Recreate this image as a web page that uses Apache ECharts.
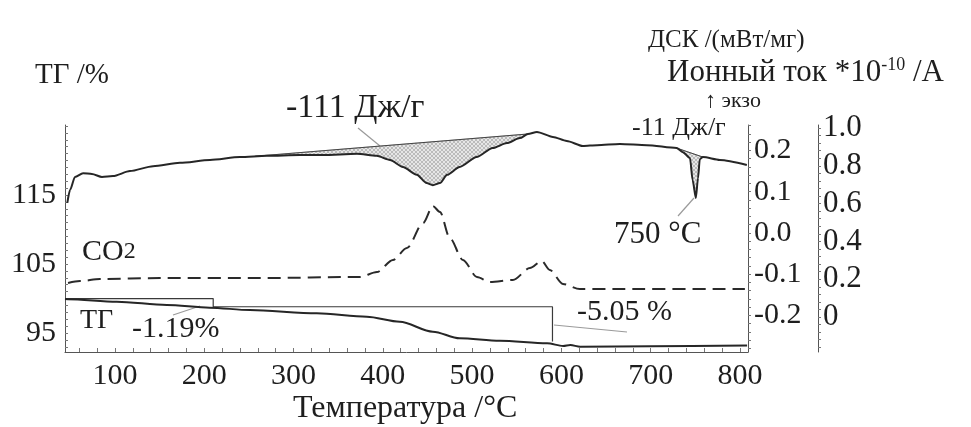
<!DOCTYPE html>
<html>
<head>
<meta charset="utf-8">
<script src="https://cdn.jsdelivr.net/npm/echarts@6/dist/echarts.min.js"></script>
<style>
  html, body { margin: 0; padding: 0; background: #fff; }
  #chart { width: 971px; height: 427px; }
</style>
</head>
<body>
<div id="chart"></div>
<script>
// DSC signal, mW/mg
const dscTemp = [46.6, 49.6, 55.2, 64.2, 74.2, 85.4, 97.8, 116.8, 142.6, 172.8, 206.4, 240, 270, 307, 333, 371, 393, 408, 422.5, 438, 449, 456, 464, 472, 486, 505, 523, 539, 553.5, 562.5, 572.6, 590.5, 606, 624, 640, 665.5, 695.7, 729, 736, 744, 747, 750.6, 753, 755, 758.5, 777.5, 807.7];
const dscValue = [0.073, 0.104, 0.136, 0.145, 0.143, 0.136, 0.138, 0.150, 0.162, 0.170, 0.177, 0.184, 0.187, 0.189, 0.189, 0.192, 0.187, 0.177, 0.160, 0.141, 0.121, 0.116, 0.121, 0.141, 0.160, 0.184, 0.206, 0.218, 0.230, 0.240, 0.245, 0.233, 0.223, 0.211, 0.213, 0.216, 0.213, 0.206, 0.196, 0.182, 0.128, 0.085, 0.133, 0.179, 0.184, 0.177, 0.165];

// integration baselines of the two endothermic peaks
const peak1Base = [[257, 0.186], [562.5, 0.240]];
const peak2Base = [[729, 0.206], [758.5, 0.184]];

// CO2 ion current, 1e-10 A
const co2Temp = [47.4, 60.8, 83.2, 150.4, 262.4, 374.4, 393.4, 411.3, 427, 445, 456, 464, 475, 489.7, 505.4, 520, 545.7, 564.7, 578, 587, 601.7, 620.7, 669, 805.5];
const co2Value = [0.180, 0.190, 0.201, 0.206, 0.206, 0.212, 0.238, 0.302, 0.365, 0.497, 0.587, 0.556, 0.418, 0.302, 0.212, 0.185, 0.196, 0.259, 0.296, 0.249, 0.175, 0.148, 0.148, 0.148];

// TG mass, %
const tgTemp = [44, 47.4, 102, 158, 206, 251, 326, 382, 419, 456, 486, 531, 584, 602, 610, 621, 700, 808];
const tgValue = [99.92, 99.9, 99.54, 99.06, 98.67, 98.33, 97.86, 97.36, 96.64, 95.19, 94.23, 93.88, 93.51, 93.12, 93.26, 93.01, 93.1, 93.19];

// mass-loss steps
const tgStart = 100;
const stepTemp = [44, 210, 590];
const stepLoss = [-1.19, -5.05];

// tick labels
const tempLabels = [100, 200, 300, 400, 500, 600, 700, 800];
const tgLabels = [95, 105, 115];
const dscLabels = [-0.2, -0.1, 0, 0.1, 0.2];
const ionLabels = [0, 0.2, 0.4, 0.6, 0.8, 1.0];

const FONT = '"Liberation Serif", "Times New Roman", serif';
const INK = '#1e1e1e';
const AXIS = '#555';

function zip(a, b) { return a.map((v, i) => [v, b[i]]); }
function range(from, to, step) {
  const out = [];
  for (let v = from; v <= to + 1e-9; v += step) out.push(+v.toFixed(4));
  return out;
}

// step polyline built from the stated losses
const stepLine = [[stepTemp[0], tgStart]];
let level = tgStart;
stepLoss.forEach((d, i) => {
  stepLine.push([stepTemp[i + 1], level]);
  level = +(level + d).toFixed(2);
  stepLine.push([stepTemp[i + 1], level]);
});

// light hatch fill for integrated peak areas
function hatchCanvas() {
  const c = document.createElement('canvas');
  c.width = 4; c.height = 4;
  const g = c.getContext('2d');
  g.fillStyle = '#e6e6e6';
  g.fillRect(0, 0, 4, 4);
  g.strokeStyle = '#a8a8a8';
  g.lineWidth = 0.7;
  g.beginPath(); g.moveTo(0, 4); g.lineTo(4, 0); g.stroke();
  g.beginPath(); g.moveTo(0, 0); g.lineTo(4, 4); g.stroke();
  return c;
}
const hatchFill = { image: hatchCanvas(), repeat: 'repeat' };

function peakArea(base) {
  return function (params, api) {
    const pts = [api.coord(base[0])];
    dscTemp.forEach((t, i) => {
      if (t > base[0][0] && t < base[1][0]) pts.push(api.coord([t, dscValue[i]]));
    });
    pts.push(api.coord(base[1]));
    return { type: 'polygon', shape: { points: pts }, style: { fill: hatchFill, stroke: '#888', lineWidth: 0.5 } };
  };
}

function axisCommon(extra) {
  return Object.assign({
    type: 'value',
    splitLine: { show: false },
    axisLine: { show: true, onZero: false, lineStyle: { color: AXIS, width: 1 } },
  }, extra);
}

const chart = echarts.init(document.getElementById('chart'), null, { renderer: 'canvas' });

const option = {
  animation: false,
  backgroundColor: '#fff',
  grid: { left: 65, right: 223, top: 125, bottom: 75 },
  xAxis: axisCommon({
    min: 44, max: 809,
    axisTick: { show: true, inside: true, length: 4, customValues: range(60, 800, 20), lineStyle: { color: '#777' } },
    axisLabel: { customValues: tempLabels, fontFamily: FONT, fontSize: 30, color: INK, margin: 9 }
  }),
  yAxis: [
    axisCommon({
      position: 'left', min: 92.25, max: 125.15,
      axisTick: { show: true, inside: true, length: 3, customValues: range(93, 125, 1), lineStyle: { color: '#777' } },
      axisLabel: { customValues: tgLabels, fontFamily: FONT, fontSize: 30, color: INK, margin: 9 }
    }),
    axisCommon({
      position: 'right', min: -0.2885, max: 0.2618,
      axisTick: { show: true, inside: false, length: 3, customValues: range(-0.28, 0.26, 0.02), lineStyle: { color: '#777' } },
      axisLabel: { customValues: dscLabels, fontFamily: FONT, fontSize: 30, color: INK, margin: 6,
        formatter: v => v.toFixed(1) }
    }),
    axisCommon({
      position: 'right', offset: 70, min: -0.185, max: 1.016,
      axisTick: { show: true, inside: false, length: 3, customValues: range(-0.16, 1.0, 0.04), lineStyle: { color: '#777' } },
      axisLabel: { customValues: ionLabels, fontFamily: FONT, fontSize: 31, color: INK, margin: 5,
        formatter: v => (v === 0 ? '0' : v.toFixed(1)) }
    })
  ],
  series: [
    {
      name: 'peak-area-1', type: 'custom', yAxisIndex: 1, silent: true, z: 1,
      renderItem: peakArea(peak1Base), data: [peak1Base[0]]
    },
    {
      name: 'peak-area-2', type: 'custom', yAxisIndex: 1, silent: true, z: 1,
      renderItem: peakArea(peak2Base), data: [peak2Base[0]]
    },
    {
      name: 'baseline-1', type: 'line', yAxisIndex: 1, data: peak1Base, showSymbol: false, z: 2,
      lineStyle: { color: '#444', width: 1.2 }
    },
    {
      name: 'baseline-2', type: 'line', yAxisIndex: 1, data: peak2Base, showSymbol: false, z: 2,
      lineStyle: { color: '#444', width: 1 }
    },
    {
      name: 'ДСК', type: 'line', yAxisIndex: 1, data: zip(dscTemp, dscValue),
      showSymbol: false, smooth: 0.25, smoothMonotone: 'x', z: 3,
      lineStyle: { color: '#262626', width: 2 }
    },
    {
      name: 'CO2', type: 'line', yAxisIndex: 2, data: zip(co2Temp, co2Value),
      showSymbol: false, smooth: 0.3, smoothMonotone: 'x', z: 3,
      lineStyle: { color: '#2a2a2a', width: 2, type: [13, 7] }
    },
    {
      name: 'ТГ', type: 'line', yAxisIndex: 0, data: zip(tgTemp, tgValue),
      showSymbol: false, smooth: 0.3, smoothMonotone: 'x', z: 3,
      lineStyle: { color: '#262626', width: 2 }
    },
    {
      name: 'steps', type: 'line', yAxisIndex: 0, data: stepLine,
      showSymbol: false, z: 2,
      lineStyle: { color: '#3a3a3a', width: 1.2 }
    }
  ],
  graphic: [
    { type: 'text', x: 35, y: 75, style: { text: 'ТГ /%', font: '29px ' + FONT, fill: INK, verticalAlign: 'middle' } },
    { type: 'text', x: 648, y: 40, style: { text: 'ДСК /(мВт/мг)', font: '25px ' + FONT, fill: INK, verticalAlign: 'middle' } },
    { type: 'text', x: 667, y: 73, style: {
        text: '{a|Ионный ток *10}{s|-10}{a| /А}', verticalAlign: 'middle', fill: INK,
        rich: {
          a: { fontFamily: FONT, fontSize: 31, lineHeight: 34, fill: INK },
          s: { fontFamily: FONT, fontSize: 18, lineHeight: 20, verticalAlign: 'top', fill: INK }
        } } },
    { type: 'text', x: 705, y: 101, style: { text: '↑ экзо', font: '22px ' + FONT, fill: INK, verticalAlign: 'middle' } },
    { type: 'text', x: 286, y: 108, style: { text: '-111 Дж/г', font: '34px ' + FONT, fill: INK, verticalAlign: 'middle' } },
    { type: 'text', x: 632, y: 128, style: { text: '-11 Дж/г', font: '26px ' + FONT, fill: INK, verticalAlign: 'middle' } },
    { type: 'text', x: 614, y: 235, style: { text: '750 °C', font: '31px ' + FONT, fill: INK, verticalAlign: 'middle' } },
    { type: 'text', x: 82, y: 252, style: {
        text: '{a|CO}{b|2}', verticalAlign: 'middle', fill: INK,
        rich: {
          a: { fontFamily: FONT, fontSize: 30, lineHeight: 32, fill: INK },
          b: { fontFamily: FONT, fontSize: 24, lineHeight: 32, fill: INK }
        } } },
    { type: 'text', x: 80, y: 321, style: { text: 'ТГ', font: '28px ' + FONT, fill: INK, verticalAlign: 'middle' } },
    { type: 'text', x: 132, y: 329, style: { text: '-1.19%', font: '30px ' + FONT, fill: INK, verticalAlign: 'middle' } },
    { type: 'text', x: 577, y: 312, style: { text: '-5.05 %', font: '30px ' + FONT, fill: INK, verticalAlign: 'middle' } },
    { type: 'text', x: 293, y: 409, style: { text: 'Температура /°C', font: '32px ' + FONT, fill: INK, verticalAlign: 'middle' } },
    // leader lines
    { type: 'line', shape: { x1: 358, y1: 128, x2: 380, y2: 146 }, style: { stroke: '#9a9a9a', lineWidth: 1.2 } },
    { type: 'line', shape: { x1: 678, y1: 216, x2: 694, y2: 198 }, style: { stroke: '#9a9a9a', lineWidth: 1.2 } },
    { type: 'line', shape: { x1: 173, y1: 315, x2: 200, y2: 306 }, style: { stroke: '#9a9a9a', lineWidth: 1.2 } },
    { type: 'line', shape: { x1: 554, y1: 325, x2: 627, y2: 332 }, style: { stroke: '#9a9a9a', lineWidth: 1.2 } }
  ]
};

chart.setOption(option);
</script>
</body>
</html>
